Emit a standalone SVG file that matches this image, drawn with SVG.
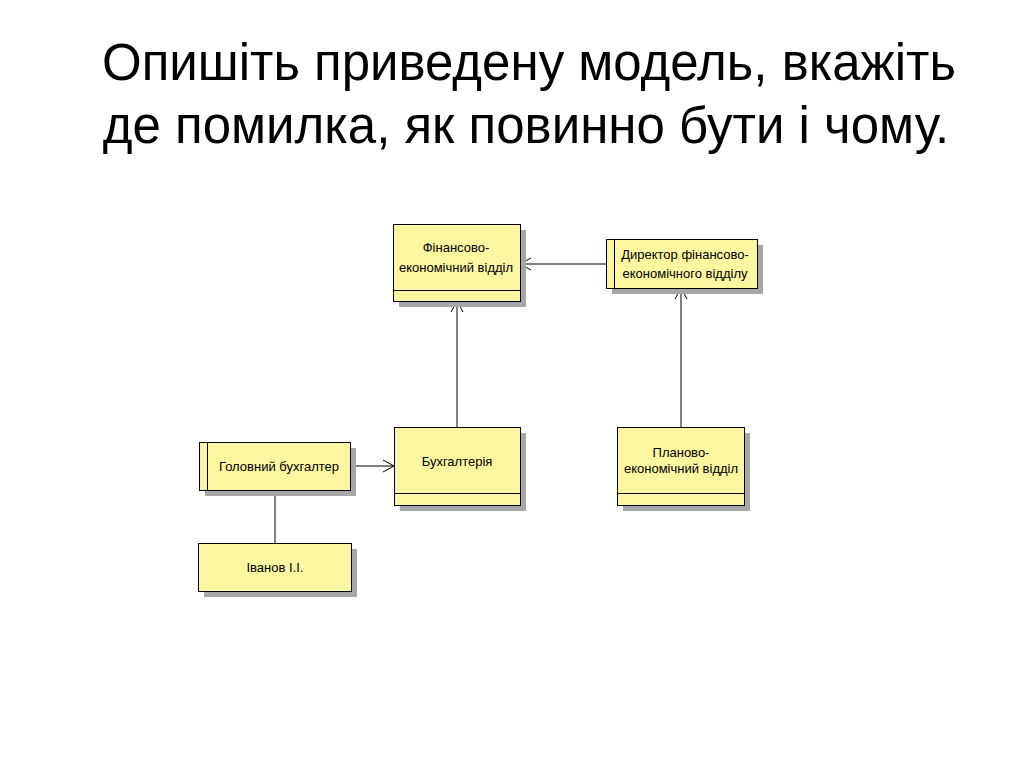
<svg xmlns="http://www.w3.org/2000/svg" width="1024" height="768" viewBox="0 0 1024 768">
<defs>
<marker id="open" markerWidth="14" markerHeight="14" refX="12" refY="7" orient="auto" markerUnits="userSpaceOnUse">
<path d="M1,1 L12,7 L1,13" fill="none" stroke="#000" stroke-width="1"/>
</marker>
</defs>
<style>
.title{font-family:"Liberation Sans",Arial,sans-serif;font-size:51px;fill:#000;text-anchor:middle}
.box{fill:#FBF7A1;stroke:#000;stroke-width:1}
.sh{fill:#A6A6A6}
.ln{stroke:#000;stroke-width:1;fill:none}
.t{font-family:"Liberation Sans",Arial,sans-serif;font-size:13px;fill:#000;text-anchor:middle}
</style>
<rect width="1024" height="768" fill="#fff"/>
<text class="title" x="529" y="80">Опишіть приведену модель, вкажіть</text>
<text class="title" x="526" y="143">де помилка, як повинно бути і чому.</text>

<g id="connectors">
<line class="ln" x1="606" y1="264" x2="520" y2="264" marker-end="url(#open)"/>
<line class="ln" x1="457" y1="427" x2="457" y2="301" marker-end="url(#open)"/>
<line class="ln" x1="681" y1="427" x2="681" y2="288" marker-end="url(#open)"/>
<line class="ln" x1="350" y1="466" x2="394" y2="466" marker-end="url(#open)"/>
<line class="ln" x1="275" y1="490" x2="275" y2="543"/>
</g>

<g id="fin">
<rect class="sh" x="399" y="230" width="127" height="77"/>
<rect class="box" x="393.5" y="224.5" width="127" height="77"/>
<line class="ln" x1="393.5" y1="290.5" x2="520.5" y2="290.5"/>
<text class="t" x="456" y="252">Фінансово-</text>
<text class="t" x="456" y="272">економічний відділ</text>
</g>

<g id="director">
<rect class="sh" x="612" y="245" width="151" height="49"/>
<rect class="box" x="606.5" y="239.5" width="151" height="49"/>
<line class="ln" x1="614.5" y1="239.5" x2="614.5" y2="288.5"/>
<text class="t" x="685" y="259">Директор фінансово-</text>
<text class="t" x="685" y="278">економічного відділу</text>
</g>

<g id="holovnyi">
<rect class="sh" x="205" y="448" width="151" height="48"/>
<rect class="box" x="199.5" y="442.5" width="151" height="48"/>
<line class="ln" x1="207.5" y1="442.5" x2="207.5" y2="490.5"/>
<text class="t" x="279" y="471">Головний бухгалтер</text>
</g>

<g id="buh">
<rect class="sh" x="400" y="433" width="126" height="78"/>
<rect class="box" x="394.5" y="427.5" width="126" height="78"/>
<line class="ln" x1="394.5" y1="493.5" x2="520.5" y2="493.5"/>
<text class="t" x="457" y="466">Бухгалтерія</text>
</g>

<g id="plan">
<rect class="sh" x="623" y="433" width="127" height="78"/>
<rect class="box" x="617.5" y="427.5" width="127" height="78"/>
<line class="ln" x1="617.5" y1="493.5" x2="744.5" y2="493.5"/>
<text class="t" x="681" y="457">Планово-</text>
<text class="t" x="681" y="473">економічний відділ</text>
</g>

<g id="ivanov">
<rect class="sh" x="204" y="549" width="153" height="48"/>
<rect class="box" x="198.5" y="543.5" width="153" height="48"/>
<text class="t" x="275" y="572">Іванов І.І.</text>
</g>
</svg>
